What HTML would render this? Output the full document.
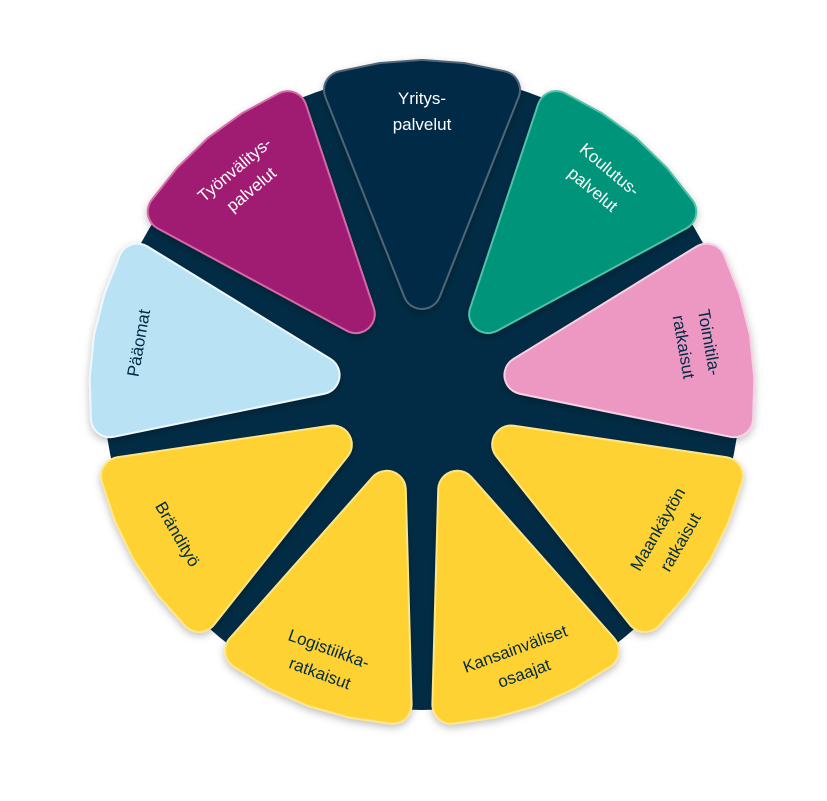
<!DOCTYPE html>
<html><head><meta charset="utf-8"><style>
html,body{margin:0;padding:0;background:#fff;}
svg{display:block;}
text{font-family:"Liberation Sans",sans-serif;font-size:17px;}
</style></head><body>
<svg width="827" height="801" viewBox="0 0 827 801" xmlns="http://www.w3.org/2000/svg">
<defs>
<filter id="sh" x="-30%" y="-30%" width="160%" height="160%"><feDropShadow dx="0" dy="3" stdDeviation="4" flood-color="#000" flood-opacity="0.25"/></filter>
<g id="w">
<polygon points="0,-103 -79,-303 -40,-311 0,-314 40,-311 79,-303" stroke-linejoin="round" stroke-width="40"/>
</g>
</defs>
<circle cx="422" cy="392" r="318" fill="#022c45"/>
<g transform="translate(422,393)">
 <g filter="url(#sh)">
  <g transform="rotate(0)"><use href="#w" fill="#4f6678" stroke="#4f6678"/><polygon points="0,-103 -79,-303 -40,-311 0,-314 40,-311 79,-303" fill="#022c45" stroke="#022c45" stroke-linejoin="round" stroke-width="36"/></g>
  <g transform="rotate(40)"><use href="#w" fill="#4fc2a8" stroke="#4fc2a8"/><polygon points="0,-103 -79,-303 -40,-311 0,-314 40,-311 79,-303" fill="#00957a" stroke="#00957a" stroke-linejoin="round" stroke-width="36"/></g>
  <g transform="rotate(80)"><use href="#w" fill="#f8d1e4" stroke="#f8d1e4"/><polygon points="0,-103 -79,-303 -40,-311 0,-314 40,-311 79,-303" fill="#ec98c3" stroke="#ec98c3" stroke-linejoin="round" stroke-width="36"/></g>
  <g transform="rotate(120)"><use href="#w" fill="#fde68a" stroke="#fde68a"/><polygon points="0,-103 -79,-303 -40,-311 0,-314 40,-311 79,-303" fill="#fed232" stroke="#fed232" stroke-linejoin="round" stroke-width="36"/></g>
  <g transform="rotate(160)"><use href="#w" fill="#fde68a" stroke="#fde68a"/><polygon points="0,-103 -79,-303 -40,-311 0,-314 40,-311 79,-303" fill="#fed232" stroke="#fed232" stroke-linejoin="round" stroke-width="36"/></g>
  <g transform="rotate(200)"><use href="#w" fill="#fde68a" stroke="#fde68a"/><polygon points="0,-103 -79,-303 -40,-311 0,-314 40,-311 79,-303" fill="#fed232" stroke="#fed232" stroke-linejoin="round" stroke-width="36"/></g>
  <g transform="rotate(240)"><use href="#w" fill="#fde68a" stroke="#fde68a"/><polygon points="0,-103 -79,-303 -40,-311 0,-314 40,-311 79,-303" fill="#fed232" stroke="#fed232" stroke-linejoin="round" stroke-width="36"/></g>
  <g transform="rotate(280)"><use href="#w" fill="#eef8fd" stroke="#eef8fd"/><polygon points="0,-103 -79,-303 -40,-311 0,-314 40,-311 79,-303" fill="#b9e2f5" stroke="#b9e2f5" stroke-linejoin="round" stroke-width="36"/></g>
  <g transform="rotate(320)"><use href="#w" fill="#d56aa8" stroke="#d56aa8"/><polygon points="0,-103 -79,-303 -40,-311 0,-314 40,-311 79,-303" fill="#a01a73" stroke="#a01a73" stroke-linejoin="round" stroke-width="36"/></g>
 </g>
 <g text-anchor="middle">
  <g transform="rotate(0) translate(0,-285)"><text y="-4" fill="#fff">Yritys-</text><text y="22" fill="#fff">palvelut</text></g>
  <g transform="rotate(40) translate(0,-282)"><text y="-4" fill="#fff">Koulutus-</text><text y="22" fill="#fff">palvelut</text></g>
  <g transform="rotate(80) translate(0,-282)"><text y="-4" fill="#022c45">Toimitila-</text><text y="22" fill="#022c45">ratkaisut</text></g>
  <g transform="rotate(120) translate(0,-282) rotate(180)"><text y="-4" fill="#022c45">Maankäytön</text><text y="22" fill="#022c45">ratkaisut</text></g>
  <g transform="rotate(160) translate(0,-282) rotate(180)"><text y="-4" fill="#022c45">Kansainväliset</text><text y="22" fill="#022c45">osaajat</text></g>
  <g transform="rotate(200) translate(0,-282) rotate(180)"><text y="-4" fill="#022c45">Logistiikka-</text><text y="22" fill="#022c45">ratkaisut</text></g>
  <g transform="rotate(240) translate(0,-282) rotate(180)"><text y="6" fill="#022c45">Brändityö</text></g>
  <g transform="rotate(280) translate(0,-288)"><text y="6" fill="#022c45">Pääomat</text></g>
  <g transform="rotate(320) translate(0,-282)"><text y="-4" fill="#fff">Työnvälitys-</text><text y="22" fill="#fff">palvelut</text></g>
 </g>
</g>
</svg>
</body></html>
